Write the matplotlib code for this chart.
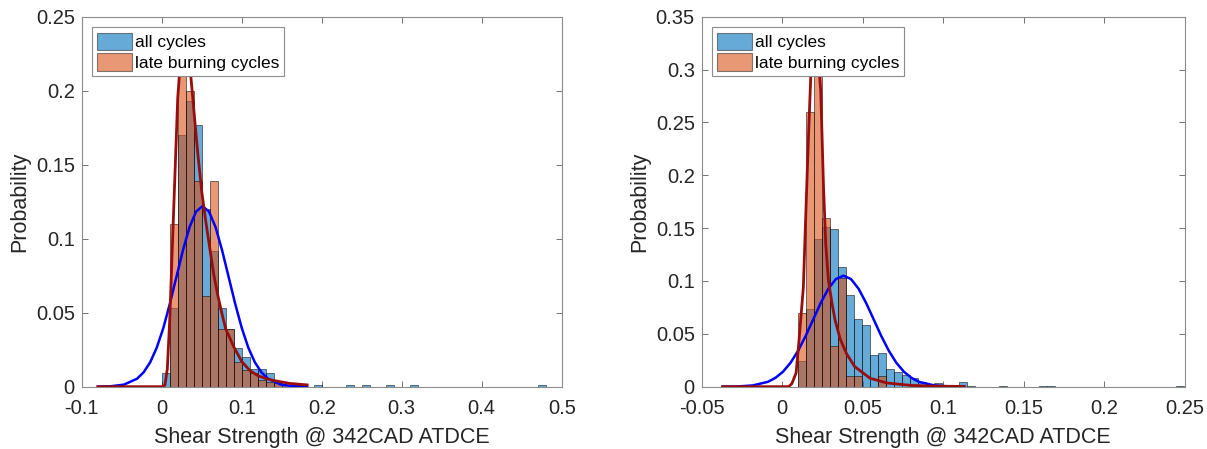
import numpy as np
import matplotlib
matplotlib.use("Agg")
from matplotlib import pyplot as plt
from matplotlib.patches import Patch
from matplotlib.ticker import FuncFormatter

plt.rcParams["font.family"] = ["Liberation Sans", "DejaVu Sans"]
plt.rcParams["axes.unicode_minus"] = False

# ---- left panel data (bin width 0.01, first edge 0.0) ----
left_bin_start = 0.0
left_bin_width = 0.01
left_all = [0.009, 0.053, 0.170, 0.193, 0.177, 0.120, 0.092, 0.053, 0.039, 0.026,
            0.020, 0.0117, 0.0117, 0.009, 0.0023, 0.0011, 0.002, 0.0011, 0, 0.0011,
            0, 0, 0, 0.0011, 0, 0.0011, 0, 0, 0.0011, 0,
            0, 0.0011, 0, 0, 0, 0, 0, 0, 0, 0,
            0, 0, 0, 0, 0, 0, 0, 0.0011]
left_late = [0, 0.110, 0.222, 0.200, 0.139, 0.061, 0.139, 0.039, 0.039, 0.017,
             0.011, 0.009, 0.0045, 0.0034, 0.0022, 0.0011, 0.0011, 0.0011]

left_fit_all_x = [-0.0798, -0.0635, -0.0471, -0.0308, -0.0226, -0.0144, -0.0062, 0.0020,
                  0.0101, 0.0183, 0.0265, 0.0347, 0.0428, 0.0510, 0.0592, 0.0674, 0.0755,
                  0.0837, 0.0919, 0.1001, 0.1082, 0.1164, 0.1246, 0.1328, 0.1491, 0.1655, 0.1818]
left_fit_all_y = [0.0000, 0.0003, 0.0014, 0.0054, 0.0097, 0.0165, 0.0264, 0.0396,
                  0.0559, 0.0740, 0.0921, 0.1077, 0.1182, 0.1220, 0.1182, 0.1077, 0.0921,
                  0.0740, 0.0559, 0.0396, 0.0264, 0.0165, 0.0097, 0.0054, 0.0014, 0.0003, 0.0000]

left_fit_late_x = [-0.0798, 0.0, 0.004, 0.007, 0.010, 0.012, 0.014, 0.017, 0.020, 0.024,
                   0.028, 0.032, 0.036, 0.040, 0.045, 0.050, 0.055, 0.0583, 0.065, 0.070,
                   0.075, 0.080, 0.090, 0.100, 0.110, 0.120, 0.130, 0.140, 0.160, 0.1818]
left_fit_late_y = [0.0, 0.0, 0.001, 0.012, 0.045, 0.075, 0.105, 0.150, 0.195, 0.225,
                   0.236, 0.230, 0.212, 0.188, 0.158, 0.132, 0.112, 0.100, 0.076, 0.062,
                   0.050, 0.039, 0.027, 0.017, 0.011, 0.0075, 0.0055, 0.0042, 0.0022, 0.0012]

# ---- right panel data (bin width 0.005, first edge 0.0095) ----
right_bin_start = 0.0095
right_bin_width = 0.005
right_all = [0.0243, 0.0731, 0.140, 0.151, 0.1496, 0.1133, 0.0872, 0.0636, 0.0583, 0.030,
             0.0315, 0.0164, 0.0142, 0.011, 0.0079, 0.0041, 0.0022, 0.0032, 0.0016, 0,
             0.0041, 0.0011, 0, 0, 0, 0.0011, 0, 0, 0, 0,
             0.0011, 0.0011, 0, 0, 0, 0, 0, 0, 0, 0,
             0, 0, 0, 0, 0, 0, 0, 0.0011]
right_late = [0.0693, 0.2597, 0.320, 0.160, 0.0387, 0.103, 0.0101, 0.0101, 0, 0,
              0.0101]

right_fit_all_x = [-0.0370, -0.0276, -0.01825, -0.00888, -0.00419, 0.0005, 0.00519, 0.00988,
                   0.01456, 0.01925, 0.02394, 0.02863, 0.03331, 0.0380, 0.04269, 0.04738,
                   0.05206, 0.05675, 0.06144, 0.06613, 0.07081, 0.0755, 0.08019, 0.08488,
                   0.09425, 0.10363, 0.1130]
right_fit_all_y = [0.0000, 0.0002, 0.0012, 0.0046, 0.0084, 0.0142, 0.0227, 0.0341,
                   0.0481, 0.0637, 0.0793, 0.0927, 0.1018, 0.1050, 0.1018, 0.0927,
                   0.0793, 0.0637, 0.0481, 0.0341, 0.0227, 0.0142, 0.0084, 0.0046,
                   0.0012, 0.0002, 0.0000]

right_fit_late_x = [-0.0370, 0.004, 0.006, 0.0086, 0.0106, 0.0131, 0.0152, 0.0165, 0.0177,
                    0.019, 0.0205, 0.022, 0.0239, 0.0256, 0.027, 0.0287, 0.031, 0.0328,
                    0.036, 0.040, 0.045, 0.0545, 0.065, 0.080, 0.095, 0.1130]
right_fit_late_y = [0.0, 0.0, 0.003, 0.013, 0.047, 0.094, 0.189, 0.245, 0.293,
                    0.318, 0.328, 0.318, 0.280, 0.190, 0.135, 0.100, 0.078, 0.063,
                    0.045, 0.031, 0.019, 0.008, 0.0035, 0.0012, 0.0005, 0.0002]

xlabel = "Shear Strength @ 342CAD ATDCE"
ylabel = "Probability"
legend_labels = ["all cycles", "late burning cycles"]

blue_face = (0.0, 0.447, 0.741)
orange_face = (0.85, 0.325, 0.098)
fit_red = (0.6, 0.05, 0.05)
txt = "#262626"


def draw_hist(ax, start, width, heights, color):
    h = np.asarray(heights, dtype=float)
    edges = start + width * np.arange(len(h))
    keep = h > 0
    ax.bar(edges[keep], h[keep], width=width, align="edge", color=color, alpha=0.6,
           edgecolor=(0, 0, 0, 0.9), linewidth=0.6, zorder=2)


def panel(ax, start, width, all_h, late_h, ax_x, ax_y, lx, ly, xlim, ylim, xt, yt):
    draw_hist(ax, start, width, all_h, blue_face)
    draw_hist(ax, start, width, late_h, orange_face)
    ax.plot(ax_x, ax_y, color="#0000ff", lw=1.8, zorder=3)
    ax.plot(lx, ly, color=fit_red, lw=2.0, zorder=4)
    ax.set_xlim(xlim)
    ax.set_ylim(ylim)
    ax.set_xticks(xt)
    ax.set_yticks(yt)
    fmt = FuncFormatter(lambda v, p: "%g" % round(v, 4))
    ax.xaxis.set_major_formatter(fmt)
    ax.yaxis.set_major_formatter(fmt)
    ax.tick_params(direction="in", length=4.5, width=0.7, colors="0.45",
                   labelcolor=txt, labelsize=14.5, top=True, right=True)
    ax.tick_params(axis="x", pad=9)
    ax.tick_params(axis="y", pad=5)
    for s in ax.spines.values():
        s.set_color("0.55")
        s.set_linewidth(0.8)
    ax.set_xlabel(xlabel, fontsize=15.5, color=txt, labelpad=6)
    ax.set_ylabel(ylabel, fontsize=15.5, color=txt, labelpad=4)
    handles = [Patch(facecolor=blue_face, alpha=0.6, edgecolor="0.2", lw=0.8),
               Patch(facecolor=orange_face, alpha=0.6, edgecolor="0.2", lw=0.8)]
    leg = ax.legend(handles, legend_labels, loc="upper left", bbox_to_anchor=(0.011, 0.985),
                    fontsize=12.5, frameon=True, fancybox=False, framealpha=1,
                    edgecolor="0.55", borderpad=0.3, handlelength=2.0, handleheight=1.15,
                    handletextpad=0.15, labelspacing=0.18, borderaxespad=0.3)
    leg.get_frame().set_linewidth(0.8)
    leg.set_zorder(10)


fig = plt.figure(figsize=(12.07, 4.49), dpi=100)
ax1 = fig.add_axes([0.0677, 0.1388, 0.3977, 0.8240])
ax2 = fig.add_axes([0.5814, 0.1388, 0.4002, 0.8240])

panel(ax1, left_bin_start, left_bin_width, left_all, left_late,
      left_fit_all_x, left_fit_all_y, left_fit_late_x, left_fit_late_y,
      (-0.1, 0.5), (0, 0.25), [-0.1, 0, 0.1, 0.2, 0.3, 0.4, 0.5],
      [0, 0.05, 0.1, 0.15, 0.2, 0.25])
panel(ax2, right_bin_start, right_bin_width, right_all, right_late,
      right_fit_all_x, right_fit_all_y, right_fit_late_x, right_fit_late_y,
      (-0.05, 0.25), (0, 0.35), [-0.05, 0, 0.05, 0.1, 0.15, 0.2, 0.25],
      [0, 0.05, 0.1, 0.15, 0.2, 0.25, 0.3, 0.35])

fig.savefig("out.png", dpi=100)
